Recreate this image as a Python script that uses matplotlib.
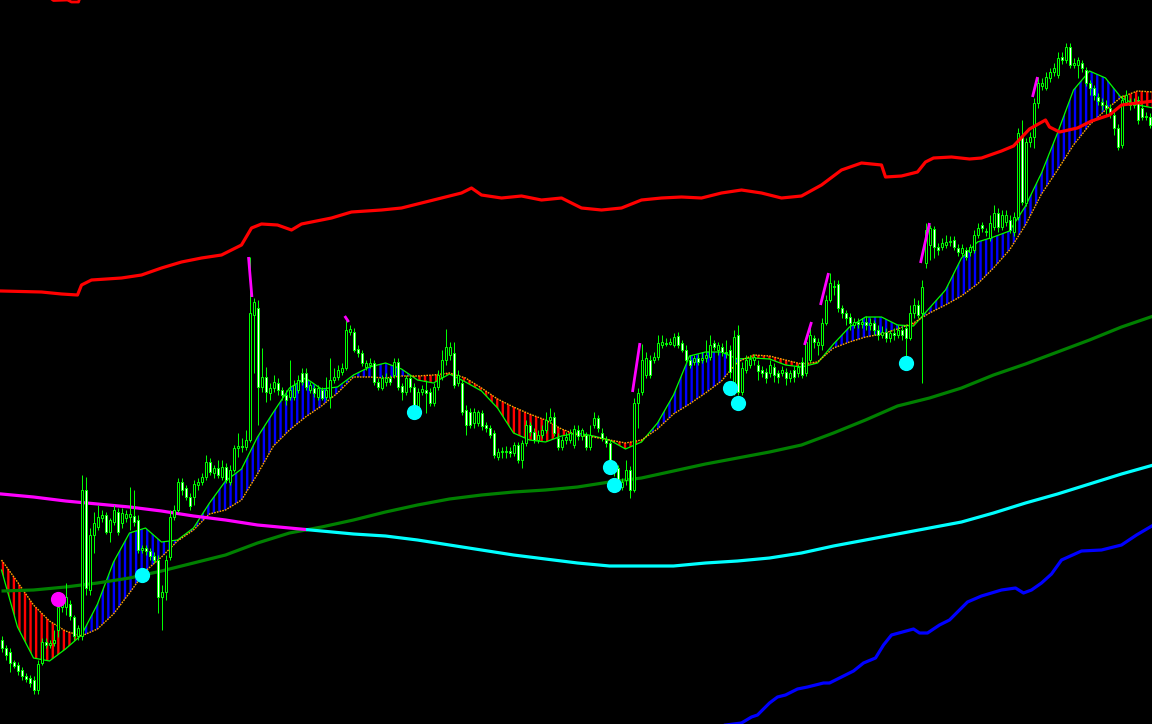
import numpy as np
import matplotlib
matplotlib.use("Agg")
import matplotlib.pyplot as plt
from matplotlib.patches import Rectangle

# ---------------- data (price axis in screen-height units, larger = lower) ----------------
open_ = [640,648,652,662,665,670,676,678,680,690,
         663,642,645,643,630,607,607,604,617,636,
         636,490,590,535,527,518,515,532,522,512,
         523,518,517,516,520,550,548,551,556,560,
         597,592,557,517,510,482,488,497,497,485,
         482,477,462,473,468,477,467,482,470,448,
         446,447,440,315,308,387,377,393,388,383,
         390,395,397,397,390,373,373,390,388,397,
         390,397,397,380,377,372,368,332,332,349,
         353,367,365,363,382,388,382,378,375,362,
         386,392,378,387,407,392,390,392,403,387,
         377,360,355,353,383,383,410,412,423,423,
         413,425,428,433,457,452,451,451,453,445,
         460,443,425,432,440,435,430,420,417,438,
         447,440,440,445,430,436,435,447,425,418,
         433,440,443,467,468,487,480,470,490,403,
         392,375,360,360,357,345,343,344,345,336,
         343,350,360,362,358,360,358,357,343,350,
         347,352,350,392,335,392,370,365,360,365,
         370,372,373,367,373,373,372,378,370,373,
         362,373,360,338,345,345,323,300,287,284,
         308,313,317,325,322,324,322,325,323,330,
         335,332,338,333,335,330,328,338,313,305,
         313,263,245,229,247,247,245,242,240,248,
         253,250,252,250,235,225,232,238,227,213,
         227,222,220,232,217,137,203,142,137,103,
         86,88,78,72,75,57,60,47,65,65,
         63,70,83,88,97,102,105,108,115,128,
         145,102,102,105,100,108,117,117]
close = [648,655,663,666,671,676,679,683,690,664,
         642,645,643,640,607,603,597,616,636,628,
         490,588,535,523,517,515,532,520,510,532,
         513,514,514,522,550,548,551,556,560,597,
         592,560,517,510,482,490,497,506,484,482,
         477,462,472,468,475,467,480,470,448,446,
         447,440,313,302,387,377,392,388,382,390,
         395,400,390,385,380,382,387,385,393,388,
         398,390,380,377,370,368,330,329,350,353,
         363,363,363,382,387,378,378,382,362,387,
         392,378,387,407,392,389,393,403,387,375,
         360,347,347,385,375,412,425,425,412,412,
         426,428,435,455,452,451,452,453,445,460,
         443,425,432,440,435,430,420,417,433,447,
         440,437,433,429,436,430,447,435,418,428,
         438,443,467,470,480,482,470,490,403,393,
         360,358,375,357,343,342,344,342,337,345,
         350,360,365,358,362,358,355,345,347,345,
         352,353,372,337,392,368,360,359,357,371,
         373,378,365,375,377,370,378,373,377,367,
         375,342,335,342,342,323,300,283,286,308,
         313,318,323,322,324,322,325,323,330,335,
         332,338,333,335,330,335,338,313,305,315,
         287,230,228,247,250,243,242,241,247,252,
         248,257,247,235,228,228,231,223,213,227,
         215,215,230,217,133,202,142,137,103,83,
         83,77,72,68,58,60,47,65,63,60,
         68,83,88,95,101,105,108,112,128,147,
         100,95,105,102,120,117,116,125]
high = [636,645,648,660,662,667,673,675,676,660,
        638,638,640,630,600,598,583,600,615,625,
        475,477,528,512,505,510,512,518,505,508,
        508,510,487,490,515,545,545,548,552,555,
        585,555,510,505,478,478,485,493,480,478,
        473,455,458,465,460,460,463,465,445,433,
        438,430,257,298,300,348,367,383,375,378,
        387,390,360,380,375,368,368,382,385,385,
        387,377,358,368,365,363,320,325,328,345,
        350,360,358,360,378,375,373,375,358,358,
        383,375,375,383,388,385,380,388,383,370,
        350,329,342,342,370,380,405,408,408,410,
        410,422,425,430,448,447,446,447,442,442,
        440,420,422,428,430,425,412,408,412,433,
        436,432,429,425,425,428,432,425,412,415,
        428,436,440,462,465,478,460,466,398,388,
        344,352,355,352,335,335,338,338,333,332,
        340,345,355,355,354,352,340,335,340,342,
        343,340,345,330,325,362,355,355,354,360,
        366,368,360,363,370,366,368,370,366,364,
        357,338,322,335,338,318,295,273,280,280,
        305,310,313,318,318,318,316,318,320,325,
        326,328,330,328,325,326,324,305,298,300,
        280,223,225,226,243,238,235,236,236,244,
        244,247,244,230,223,222,228,215,205,208,
        210,210,215,212,128,120,138,132,98,77,
        78,72,68,63,52,52,43,43,58,57,
        60,67,80,85,93,98,100,104,110,124,
        95,90,98,98,96,104,112,113]
low = [652,660,672,668,675,680,682,687,694,694,
       665,648,648,646,637,612,615,620,640,640,
       640,595,595,553,530,522,534,542,525,535,
       528,522,530,526,553,553,555,560,563,613,
       630,600,560,520,512,495,500,510,505,490,
       485,480,475,478,478,480,483,485,472,457,
       452,450,442,373,425,392,402,400,392,395,
       400,405,400,400,393,385,390,393,397,400,
       400,400,408,383,380,375,370,335,352,357,
       366,370,368,385,390,390,386,385,378,390,
       400,395,392,410,410,395,413,406,406,390,
       380,365,360,388,386,415,435,428,428,426,
       430,432,438,458,460,458,458,457,456,463,
       468,446,436,443,443,438,433,423,436,450,
       450,444,443,448,440,440,450,450,428,432,
       441,447,470,476,485,490,485,498,492,428,
       395,378,378,363,360,348,346,345,347,348,
       352,362,368,365,365,363,362,360,350,355,
       356,358,378,395,395,395,373,368,365,380,
       377,383,377,382,383,376,385,382,382,377,
       378,376,362,348,355,350,325,302,295,312,
       318,325,330,328,328,328,330,330,335,340,
       338,342,342,340,338,340,357,340,318,318,
       383,268,260,258,255,250,248,246,250,256,
       256,260,256,253,238,232,236,241,230,232,
       230,226,233,236,220,205,206,147,148,108,
       90,90,82,76,78,64,63,68,68,78,
       72,86,95,100,105,110,115,118,135,150,
       148,105,110,108,124,120,120,128]

# cloud lines sampled every 4 bars
cloud_fast = [570,627,658,661,649,635,604,562,533,528,
              542,540,528,503,481,469,437,412,388,378,
              389,387,375,367,363,369,380,383,374,382,
              391,408,433,440,442,436,433,436,440,449,
              442,423,395,356,352,352,359,358,359,365,
              367,363,344,327,317,317,325,326,308,290,
              258,242,237,231,206,173,133,90,71,78,
              98,105,108]
cloud_slow = [560,582,605,621,631,636,629,614,593,571,
              557,541,530,514,510,500,474,446,430,417,
              406,393,377,377,378,376,376,375,373,378,
              388,399,407,414,420,429,435,437,440,443,
              440,429,414,404,393,381,362,355,356,360,
              364,362,348,342,337,334,329,323,313,305,
              296,284,268,250,225,194,170,145,125,110,
              97,91,92]

upper_idx = [0,10,15,19,20,22.5,30,35,40,45,50,55,60,62.5,65,69,72.5,75,82.5,87.5,
             95,100,105,110,115,117.5,120,125,130,135,140,145,150,155,160,165,170,175,
             180,185,190,195,200,205,210,215,220,221,225,229,231,233,237.5,242,245,
             250,253,257,261,262,264.5,269,272.5,277,280,284,288]
upper_val = [291,292,294,295,285,280,278,275,268,262,258,255,245,228,224,225,230,224,218,212,
             210,208,203,198,193,188,195,198,196,200,198,208,210,208,200,198,197,198,
             193,190,193,198,196,185,170,163,165,177,176,172,162,158,157,159,158,
             151,146,129,120,127,132,128,121,115,105,103,101]
top_idx = [12.5,13,16.5,17.5,19.25,19.5]
top_val = [-1,0.5,0,2,2,-1]

lower_idx = [179,185,187.5,189,192,194,196,199,201.5,205.5,207,210,213,215.5,218.5,
             220.5,222.5,228,229.5,231.5,234.5,237,241.5,245,250,253.5,255.5,257.5,
             260,262.5,265,270,275,280,283.75,288]
lower_val = [726,723,717,715,703,697,695,689,687,683,683,677,671,663,658,
             645,635,629,633,633,625,620,602,596,590,588,593,590,
             583,574,560,551,550,545,535,525]

# moving averages sampled every 8 bars
ma_mid = [591,590,587,583,578,571,563,555,543,533,
          527,520,512,505,499,495,492,490,487,482,
          478,471,464,458,452,445,433,420,406,398,
          388,375,364,352,340,327,316]
ma_long = [494,497,501,504,507,511,516,520,525,528,
           531,534,536,540,545,550,555,559,563,566,
           566,566,563,561,558,553,546,540,534,528,
           522,513,503,494,484,474,465]
ma_long_switch = 76

spike_top_idx = [61.75, 85.8, 159.6, 202.5, 206.75, 232.0, 259.0]
spike_top = [257, 316, 343, 322, 273, 223, 77]
spike_bot_idx = [62.6, 86.8, 157.75, 200.75, 204.75, 229.75, 257.75]
spike_bot = [297, 322, 392, 345, 305, 263, 97]

cyan_idx = [35, 103, 152, 153, 182, 184, 226]
cyan_val = [575, 412, 467, 485, 388, 403, 363]
magenta_idx = [14]
magenta_val = [599]

# ---------------- drawing ----------------
plt.rcParams['hatch.linewidth'] = 1.7
fig = plt.figure(figsize=(11.52, 7.24), dpi=100, facecolor='black')
ax = fig.add_axes([0, 0, 1, 1])
ax.set_facecolor('black')
ax.set_xlim(-0.375, 287.625)
ax.set_ylim(724, 0)
ax.axis('off')

# cloud
kx = np.arange(len(cloud_fast)) * 4
f = np.array(cloud_fast, float)
s = np.array(cloud_slow, float)
ax.fill_between(kx, f, s, where=f <= s, interpolate=True, facecolor='none',
                edgecolor='#0000ff', hatch='|||', linewidth=0, zorder=1)
ax.fill_between(kx, f, s, where=f > s, interpolate=True, facecolor='none',
                edgecolor='#ff0000', hatch='|||', linewidth=0, zorder=1)
ax.plot(kx, f, color='#00ff00', lw=0.9, zorder=2)
ax.plot(kx, s, color='#ffa500', lw=1.0, ls=(0, (1.2, 0.8)), zorder=2)

# moving averages
mx = np.arange(len(ma_mid)) * 8
ax.plot(mx, ma_mid, color='#008000', lw=2.3, zorder=2.5, solid_capstyle='butt')
ln_c, = ax.plot(mx, ma_long, color='#00ffff', lw=2.3, zorder=2.5)
ln_m, = ax.plot(mx, ma_long, color='#ff00ff', lw=2.3, zorder=2.6)
ln_c.set_clip_path(Rectangle((ma_long_switch, -10), 400, 800, transform=ax.transData))
ln_m.set_clip_path(Rectangle((-10, -10), ma_long_switch + 10, 800, transform=ax.transData))

# candles
o = np.array(open_, float); c = np.array(close, float)
h = np.array(high, float); l = np.array(low, float)
idx = np.arange(len(o))
top = np.minimum(np.minimum(o, c), h)
bot = np.maximum(np.maximum(o, c), l)
ax.vlines(idx, top, bot, color='#00ff00', lw=0.72, zorder=3)
btop = np.minimum(o, c)
bh = np.maximum(np.abs(o - c), 1.0)
fillc = np.where(c < o, 'black', 'white')
ax.bar(idx, bh, bottom=btop, width=0.5, color=fillc, edgecolor='#00ff00',
       linewidth=0.72, zorder=3.1)

# magenta spike marks
for x0, y0, x1, y1 in zip(spike_top_idx, spike_top, spike_bot_idx, spike_bot):
    ax.plot([x0, x1], [y0, y1], color='#ff00ff', lw=2.0, zorder=3.5, solid_capstyle='butt')

# envelope bands
ax.plot(upper_idx, upper_val, color='#ff0000', lw=2.3, zorder=4)
ax.plot(top_idx, top_val, color='#ff0000', lw=2.0, zorder=4)
ax.plot(lower_idx, lower_val, color='#0000ff', lw=2.3, zorder=4)

# signal dots
ax.scatter(cyan_idx, cyan_val, s=120, color='#00ffff', linewidths=0, zorder=6)
ax.scatter(magenta_idx, magenta_val, s=120, color='#ff00ff', linewidths=0, zorder=6)

fig.savefig('out.png', dpi=100, facecolor='black')
